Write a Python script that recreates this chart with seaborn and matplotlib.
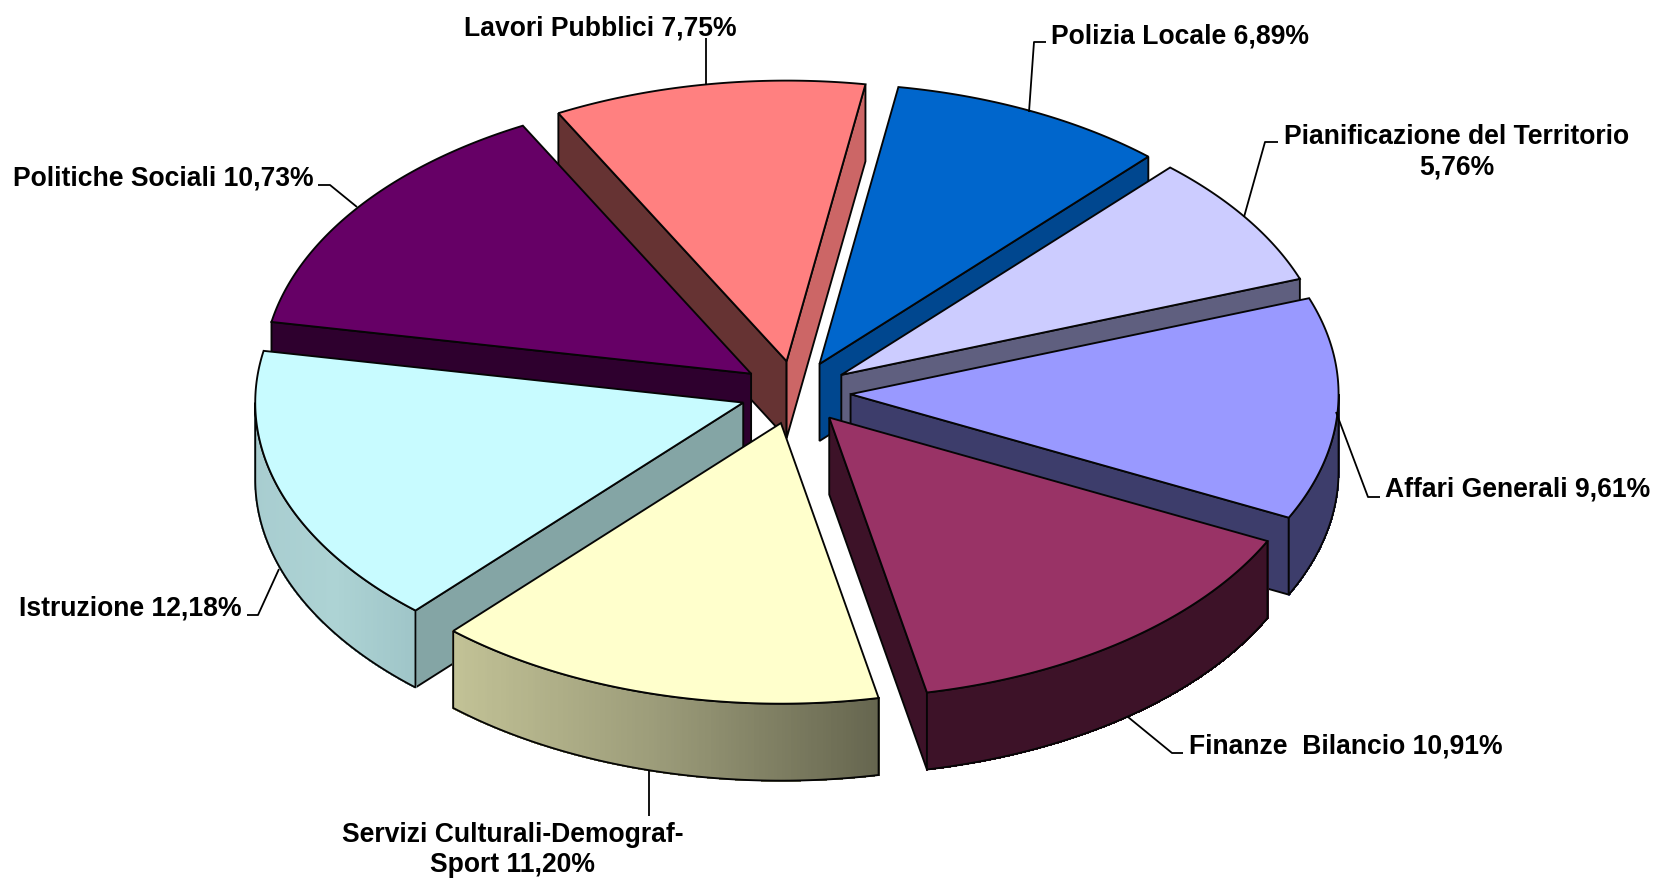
import numpy as np
import matplotlib
matplotlib.use("Agg")
import matplotlib.pyplot as plt
from matplotlib.collections import PolyCollection
from matplotlib.patches import Polygon
import seaborn as sns

# ---- data (clockwise from Polizia Locale) ----
names = ["Polizia Locale", "Pianificazione del Territorio", "Affari Generali",
         "Finanze  Bilancio", "Servizi Culturali-Demograf-\nSport", "Istruzione",
         "Politiche Sociali", "Lavori Pubblici"]
values = [6.89, 5.76, 9.61, 10.91, 11.20, 12.18, 10.73, 7.75]
value_texts = ["6,89%", "5,76%", "9,61%", "10,91%", "11,20%", "12,18%", "10,73%", "7,75%"]

# ---- styles ----
top_colors = ["#0066CC", "#CCCCFF", "#9999FF", "#993366", "#FFFFCC", "#C8FBFF", "#660066", "#FF8080"]
start_wall = ["#00478F", "#5F5F7F", "#3D3D6B", "#3D1228", "#C2C296", "#84A5A5", "#2E002E", "#663333"]
end_wall = ["#00478F", "#5F5F7F", "#3D3D6B", "#3D1228", "#66664F", "#84A5A5", "#2E002E", "#CC6666"]
arc_ramps = [["#00478F"], ["#5F5F7F"], ["#3D3D6B", "#3D3D6B"], ["#3D1228", "#3D1228"],
             ["#66664F", "#9A9A78", "#C2C296"], ["#9FC5C8", "#ADD3D4", "#A8CDD0"],
             ["#2E002E"], ["#CC6666"]]

sns.set_theme(style="white")
plt.rcParams["font.family"] = ["Liberation Sans", "DejaVu Sans"]

fig = plt.figure(figsize=(16.57, 8.79), dpi=100, facecolor="white")
ax = fig.add_axes([0, 0, 1, 1])
ax.set_xlim(0, 1657)
ax.set_ylim(879, 0)
ax.axis("off")

# ---- projection of the tilted, exploded pie ----
CX, CY, R, SQUASH, DEPTH, EXPLODE = 795.5, 393.5, 488, 0.575, 77, 0.113
START = 9.3
EDGE = "#050505"
LW = 1.35


def proj(theta, r=R, ox=0.0, oy=0.0):
    t = np.radians(theta)
    return np.column_stack([ox + r * np.sin(t), oy - r * np.cos(t) * SQUASH])


sweep = np.array(values) / np.sum(values) * 360
starts = START + np.concatenate([[0], np.cumsum(sweep)[:-1]])
mids = starts + sweep / 2
order = np.argsort(-np.cos(np.radians(mids)))
down = np.array([0, DEPTH])

for z, i in enumerate(order):
    a0, a1 = starts[i], starts[i] + sweep[i]
    m = np.radians(mids[i])
    apex = np.array([CX + EXPLODE * R * np.sin(m), CY - EXPLODE * R * np.cos(m) * SQUASH])
    arc = apex + proj(np.linspace(a0, a1, 160))
    # radial walls
    if np.cos(np.radians(a0 - 90)) < 0:
        ax.add_patch(Polygon([apex, arc[0], arc[0] + down, apex + down], closed=True,
                             fc=start_wall[i], ec=EDGE, lw=LW, zorder=z * 10 + 1))
    if np.cos(np.radians(a1 + 90)) < 0:
        ax.add_patch(Polygon([apex, arc[-1], arc[-1] + down, apex + down], closed=True,
                             fc=end_wall[i], ec=EDGE, lw=LW, zorder=z * 10 + 1))
    # outer curved wall
    vis = np.cos(np.radians(np.linspace(a0, a1, 160))) < 0
    if vis.any():
        a_vis = arc[vis]
        ramp = sns.blend_palette(arc_ramps[i], n_colors=len(a_vis) - 1)
        xs = a_vis[:-1, 0]
        frac = (xs.max() - xs) / max(xs.max() - xs.min(), 1)
        cols = [ramp[int(f * (len(ramp) - 1))] for f in frac]
        quads = [[a_vis[k], a_vis[k + 1], a_vis[k + 1] + down, a_vis[k] + down]
                 for k in range(len(a_vis) - 1)]
        ax.add_collection(PolyCollection(quads, facecolors=cols, edgecolors=cols,
                                         linewidths=0.8, antialiaseds=False, zorder=z * 10 + 2))
        outline = np.vstack([a_vis, (a_vis + down)[::-1]])
        ax.add_patch(Polygon(outline, closed=True, fc="none", ec=EDGE, lw=LW, zorder=z * 10 + 3))
    # top face
    ax.add_patch(Polygon(np.vstack([apex, arc]), closed=True, fc=top_colors[i],
                         ec=EDGE, lw=LW, joinstyle="miter", zorder=z * 10 + 4))

# ---- labels and leader lines (layout in figure pixels) ----
leaders = [
    [(1046, 43), (1034, 43), (1029, 113)],
    [(1278, 143), (1265, 143), (1244, 218)],
    [(1380, 498), (1368, 498), (1336, 413)],
    [(1183, 754), (1172, 754), (1128, 718)],
    [(649, 817), (649, 771)],
    [(247, 616), (258, 616), (279, 570)],
    [(318, 186), (330, 186), (357, 208)],
    [(706, 39), (706, 86)],
]
label_pos = [
    (1051, 37, "left"), (1457, 152, "center"), (1385, 490, "left"), (1189, 747, "left"),
    (513, 850, "center"), (242, 609, "right"), (314, 179, "right"), (737, 28, "right"),
]
joiners = [" ", "\n", " ", " ", " ", " ", " ", " "]

for pts, (x, y, ha), name, val, j in zip(leaders, label_pos, names, value_texts, joiners):
    p = np.array(pts)
    ax.plot(p[:, 0], p[:, 1], color="black", lw=1.3, zorder=200, solid_capstyle="butt")
    ax.text(x, y, name + j + val, ha=ha, va="center", multialignment="center",
            fontsize=19.1, fontweight="bold", color="black", zorder=201, linespacing=1.23)

fig.savefig("out.png", dpi=100, facecolor="white")
